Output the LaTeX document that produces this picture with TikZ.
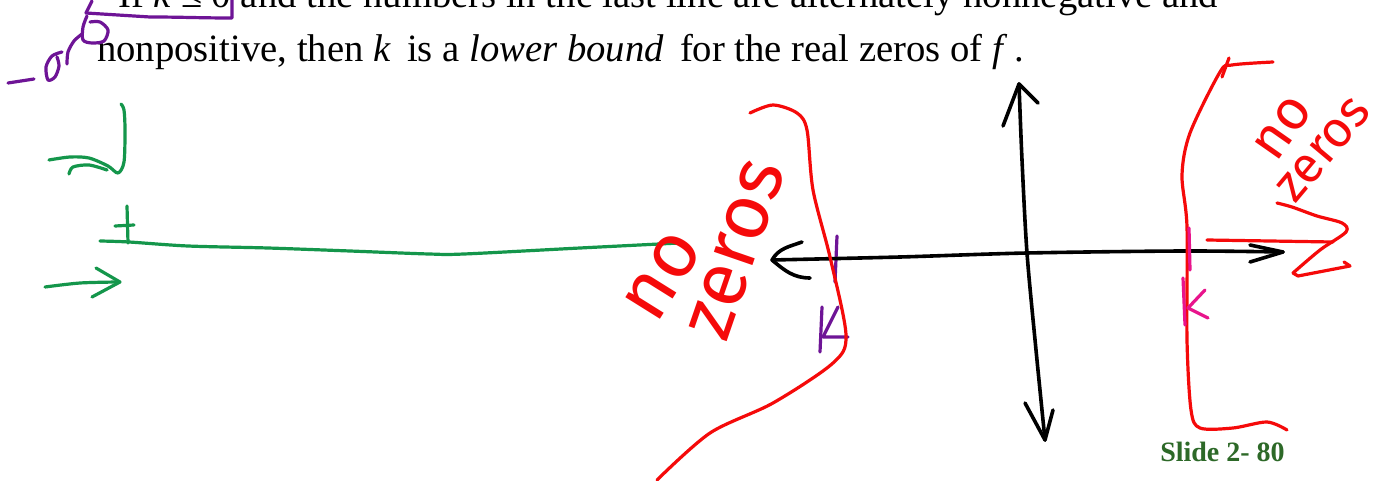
\documentclass[tikz,border=0pt]{standalone}
\usepackage{fontspec}
\setmainfont{Liberation Serif}
\newfontfamily\handfont{Fira Sans}
\definecolor{inkred}{RGB}{245,10,10}
\definecolor{inkgreen}{RGB}{20,150,75}
\definecolor{inkpurple}{RGB}{110,20,150}
\definecolor{inkpink}{RGB}{232,20,140}
\definecolor{slidegreen}{RGB}{45,105,40}
\begin{document}
\begin{tikzpicture}[x=0.75pt,y=-0.75pt,line cap=round,line join=round,
  pen/.style={line width=2.4pt},
  blackpen/.style={pen,draw=black,line width=2.7pt},
  redpen/.style={pen,draw=inkred},
  greenpen/.style={pen,draw=inkgreen},
  purplepen/.style={pen,draw=inkpurple},
  pinkpen/.style={pen,draw=inkpink},
  slidetext/.style={anchor=base west,inner sep=0pt,font=\fontsize{29}{34}\selectfont},
  hand/.style={text=inkred,inner sep=0pt,font=\handfont\fontsize{#1}{#1}\selectfont}]
\useasboundingbox (0,0) rectangle (1385,481);
\fill[white] (0,0) rectangle (1385,481);

% slide text
\node[slidetext] (line1) at (118,8) {If \textit{k} ≤ 0 and the numbers in the last line are alternately nonnegative and};
\node[slidetext] (line2) at (97,62) {nonpositive, then \textit{k}\, is a \textit{lower bound}\, for the real zeros of \textit{f}\,.};
\node[anchor=base west,inner sep=0pt,text=slidegreen,font=\bfseries\fontsize{21}{24}\selectfont] (slide) at (1160,461) {Slide 2- 80};

% purple annotations
\draw[purplepen] (232,0) -- (232,18) to[out=180,in=0] (150,17) -- (86,13);
\draw[purplepen] (86,13) -- (92,1);
\draw[purplepen] plot[smooth] coordinates {(87,16) (83,27) (83,40) (92,43) (104,41) (108,30) (100,22) (90,22)};
\draw[purplepen] (8,83) -- (34,79);
\draw[purplepen] plot[smooth] coordinates {(62,52) (52,56) (46,67) (48,80) (55,77) (59,66) (57,57)};
\draw[purplepen] plot[smooth] coordinates {(67,64) (68,52) (74,41) (82,34)};
% purple k on the left
\draw[purplepen] (837,236) -- (835,282);
\draw[purplepen] (822,307) -- (820,352);
\draw[purplepen] (838,307) -- (823,337) -- (848,337);

% green annotations
\draw[greenpen] plot[smooth] coordinates {(49,160) (70,157) (89,158) (108,166) (118,173) (124,162) (125,130) (124,110) (121,104)};
\draw[greenpen] plot[smooth] coordinates {(69,174) (73,167) (89,165) (107,170)};
\draw[greenpen] (127,206) -- (128,243);
\draw[greenpen] (115,226) -- (134,225);
\draw[greenpen] plot[smooth] coordinates {(100,241) (129,242) (188,246) (268,248) (350,251) (429,254) (464,254) (580,248) (679,243)};
\draw[greenpen] plot[smooth] coordinates {(45,287) (80,283) (118,282)};
\draw[greenpen] (96,268) -- (120,282) -- (92,297);

% black axes
\coordinate (xl) at (772,260);
\coordinate (xr) at (1283,252);
\coordinate (yt) at (1019,84);
\coordinate (yb) at (1045,440);
\draw[blackpen] plot[smooth] coordinates {(xl) (900,257) (1027,253) (1183,251) (xr)};
\draw[blackpen] (802,242) to[out=200,in=60] (xl) to[out=-40,in=180] (810,278);
\draw[blackpen] (1250,245) -- (xr) -- (1250,262);
\draw[blackpen] plot[smooth] coordinates {(yt) (1022,160) (1027,253) (1036,350) (yb)};
\draw[blackpen] (1003,126) -- (yt) -- (1038,103);
\draw[blackpen] (1025,403) -- (yb) -- (1053,410);

% red curves
\draw[redpen] plot[smooth] coordinates {(750,113) (773,105) (797,113) (807,130) (813,190) (830,257) (846,335) (833,363) (773,403) (710,433) (657,480)};
\draw[redpen] plot[smooth] coordinates {(1273,62) (1232,65) (1220,72) (1190,133) (1182,175) (1187,227) (1187,340) (1191,410) (1200,428) (1233,428) (1267,422) (1287,430)};
\draw[redpen] (1222,77) -- (1229,58);
% red arrow scribble on right
\draw[redpen] (1207,240) -- (1333,242);
\draw[redpen] plot[smooth] coordinates {(1277,203) (1292,207) (1317,216) (1342,223) (1346,232) (1320,250) (1293,273)};
\draw[redpen] (1293,273) -- (1298,276) -- (1350,266) -- (1344,262);

% magenta k
\draw[pinkpen] (1189,228) -- (1190,270);
\draw[pinkpen] (1183,278) -- (1185,325);
\draw[pinkpen] (1205,290) -- (1188,308) -- (1208,318);

% handwritten labels
\node[hand=58,rotate=58] (nol) at (663,276) {no};
\node[hand=58,rotate=71] (zerosl) at (737,250) {zeros};
\node[hand=42,rotate=55] (nor) at (1283,128) {no};
\node[hand=38,rotate=50] (zerosr) at (1324,150) {zeros};
\end{tikzpicture}
\end{document}
